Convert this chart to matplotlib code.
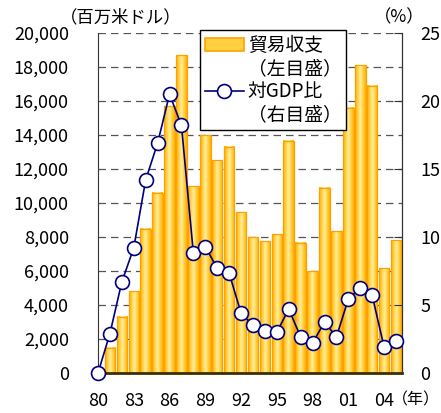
import matplotlib

matplotlib.use("Agg")

import matplotlib.pyplot as plt
import numpy as np
from matplotlib.colors import LinearSegmentedColormap
from matplotlib.lines import Line2D
from matplotlib.patches import Patch

plt.rcParams["font.family"] = ["Noto Sans CJK JP", "DejaVu Sans"]

years = list(range(1980, 2006))
# trade balance, million USD (left axis)
balance = [0, 1500, 3300, 4800, 8500, 10600, 15700, 18700, 11000, 14000,
           12500, 13300, 9450, 8000, 7750, 8150, 13650, 7650, 6000, 10900,
           8350, 15600, 18100, 16900, 6150, 7800]
# ratio to GDP, % (right axis)
gdp_ratio = [0.0, 2.9, 6.7, 9.2, 14.2, 16.9, 20.5, 18.2, 8.8, 9.3,
             7.7, 7.35, 4.4, 3.5, 3.1, 3.0, 4.7, 2.65, 2.2, 3.75,
             2.65, 5.45, 6.25, 5.7, 1.9, 2.35]
tick_years = [1980, 1983, 1986, 1989, 1992, 1995, 1998, 2001, 2004]
tick_labels = ["80", "83", "86", "89", "92", "95", "98", "01", "04"]
left_ticks = list(range(0, 20001, 2000))
right_ticks = [0, 5, 10, 15, 20, 25]

NAVY = "#000080"
ORANGE = "#FFA000"
bar_cmap = LinearSegmentedColormap.from_list(
    "bar", ["#FFB000", "#FFD040", "#FFF0A6", "#FFD040", "#FFB000"])

fig = plt.figure(figsize=(4.41, 4.13), dpi=100)
ax = fig.add_axes([98 / 441, 40 / 413, 304 / 441, 340 / 413])

width = 0.88
gradient = np.linspace(0, 1, 64).reshape(1, -1)
bars = ax.bar(years, balance, width=width, facecolor="none",
              edgecolor=ORANGE, linewidth=0.9, zorder=3)
for rect in bars:
    h = rect.get_height()
    if h <= 0:
        continue
    x0 = rect.get_x()
    ax.imshow(gradient, cmap=bar_cmap, aspect="auto", zorder=2,
              extent=[x0, x0 + rect.get_width(), 0, h], interpolation="bicubic")

ax.set_xlim(1980, 2005.5)
ax.set_ylim(0, 20000)
ax.set_yticks(left_ticks)
ax.set_yticklabels([f"{v:,}" for v in left_ticks])
ax.set_xticks(tick_years)
ax.set_xticklabels(tick_labels)
ax.tick_params(axis="y", length=0, pad=21, labelsize=13)
ax.tick_params(axis="x", length=0, pad=14, labelsize=13)
ax.set_axisbelow(True)
ax.yaxis.grid(True, linestyle=(0, (6, 4)), color="#555555", linewidth=0.9)
ax.spines["top"].set_visible(False)
ax.spines["left"].set_color("#333333")
ax.spines["bottom"].set_color("#3d3000")
ax.spines["bottom"].set_linewidth(2)
ax.spines["bottom"].set_zorder(5)

ax2 = ax.twinx()
ax2.plot(years, gdp_ratio, color=NAVY, linewidth=1.2, marker="o",
         markersize=10, markerfacecolor="white", markeredgecolor=NAVY,
         markeredgewidth=1.2, clip_on=False, zorder=4)
ax2.set_ylim(0, 25)
ax2.set_yticks(right_ticks)
ax2.tick_params(axis="y", direction="in", length=6, pad=13, labelsize=13,
                color="#333333")
ax2.spines["top"].set_visible(False)
ax2.spines["right"].set_color("#333333")
ax2.spines["bottom"].set_visible(False)
ax2.spines["left"].set_visible(False)

blank = Patch(facecolor="none", edgecolor="none")
handles = [
    Patch(facecolor="#FFD040", edgecolor=ORANGE, linewidth=1.2),
    blank,
    Line2D([], [], color=NAVY, linewidth=1.2, marker="o", markersize=10,
           markerfacecolor="white", markeredgecolor=NAVY, markeredgewidth=1.2),
    blank,
]
labels = ["貿易収支", "（左目盛）", "対GDP比", "（右目盛）"]
leg = ax2.legend(handles, labels, loc="upper left",
                 bbox_to_anchor=((200 - 98) / 304, (373 - 30) / 340),
                 fontsize=13.5, frameon=True, fancybox=False, framealpha=1,
                 edgecolor="black", borderaxespad=0, labelspacing=0.12,
                 handlelength=2.1, handletextpad=0.2, borderpad=0.25)
leg.get_frame().set_linewidth(1.0)
leg.set_zorder(10)

fig.text(60 / 441, 1 - 17 / 413, "（百万米ドル）", fontsize=12.5, va="center", ha="left")
fig.text(374 / 441, 1 - 17 / 413, "（%）", fontsize=12.5, va="center", ha="left")
fig.text(440 / 441, 1 - 400 / 413, "（年）", fontsize=11.5, va="center", ha="right")

fig.savefig("out.png", dpi=100)
